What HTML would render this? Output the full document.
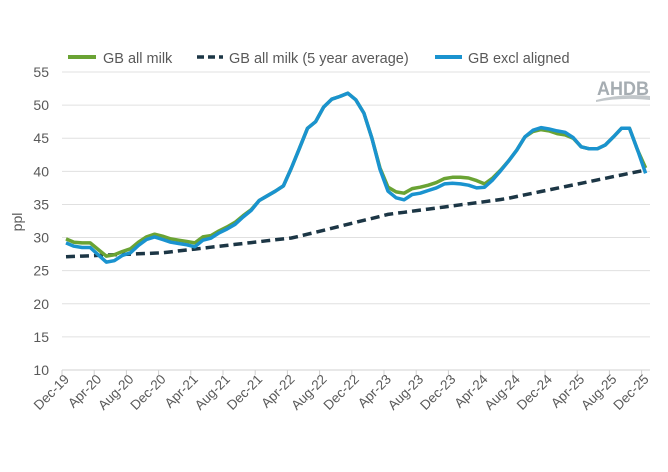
<!DOCTYPE html>
<html><head><meta charset="utf-8"><style>
body{margin:0;background:#fff;}
svg text{font-family:"Liberation Sans",Arial,sans-serif;fill:#595959;}
</style></head><body>
<svg id="c" width="668" height="467" viewBox="0 0 668 467" xmlns="http://www.w3.org/2000/svg">
<rect width="668" height="467" fill="#fff"/>
<g id="grid"></g>
<g id="lab"></g>
<text x="22" y="222" font-size="14" transform="rotate(-90 22 222)" text-anchor="middle">ppl</text>
<line x1="68" y1="57" x2="96" y2="57" stroke="#6aa334" stroke-width="4"/>
<text x="103" y="63" font-size="14.5">GB all milk</text>
<line x1="197" y1="57" x2="223" y2="57" stroke="#1c3645" stroke-width="3.5" stroke-dasharray="7,4"/>
<text x="229" y="63" font-size="14.5">GB all milk (5 year average)</text>
<line x1="435" y1="57" x2="462" y2="57" stroke="#1a93cf" stroke-width="4"/>
<text x="468" y="63" font-size="14.5">GB excl aligned</text>
<text x="597" y="95" font-size="19" font-weight="bold" textLength="52" lengthAdjust="spacingAndGlyphs" style="fill:#a6adb2">AHDB</text>
<path d="M596 100 Q622 93 650 96 L650 100 Q622 97 596 102Z" fill="#c2c7ca"/>
<polyline id="avg" fill="none" stroke="#1c3645" stroke-width="3.5" stroke-dasharray="9,5"/>
<polyline id="gr" fill="none" stroke="#6aa334" stroke-width="3.5" stroke-linejoin="round"/>
<polyline id="bl" fill="none" stroke="#1a93cf" stroke-width="3.5" stroke-linejoin="round"/>
</svg>
<script>
var ns="http://www.w3.org/2000/svg";
function Y(v){return 370-(v-10)*6.622;}
function X(i){return 66+i*8.05;}
var g=document.getElementById('grid'),l=document.getElementById('lab');
function el(t,a,p,txt){var e=document.createElementNS(ns,t);for(var k in a)e.setAttribute(k,a[k]);if(txt)e.textContent=txt;p.appendChild(e);}
for(var v=10;v<=55;v+=5){el('line',{x1:62,x2:650,y1:Y(v),y2:Y(v),stroke:v==10?'#d0d0d0':'#e0e0e0','stroke-width':1},g);
el('text',{x:49,y:Y(v)+5,'font-size':14,'text-anchor':'end'},l,String(v));}
var mons=['Dec','Apr','Aug'];
for(var j=0;j<=18;j++){var tx=62+j*4*8.05;el('line',{x1:tx,x2:tx,y1:370,y2:375,stroke:'#d0d0d0'},g);
var lab=mons[j%3]+'-'+(19+Math.floor((j+2)/3));
if(j%3==0)lab='Dec-'+(19+j/3);
var px=X(j*4)+4,py=380;
el('text',{x:px,y:py,'font-size':13.5,'text-anchor':'end',transform:'rotate(-45 '+px+' '+py+')'},l,lab);}
var G=[29.8,29.3,29.2,29.2,28.2,27.2,27.4,27.9,28.3,29.3,30.1,30.5,30.2,29.8,29.6,29.4,29.2,30.1,30.3,31.0,31.6,32.3,33.3,34.2,35.6,36.3,37.0,37.8,40.5,43.5,46.5,47.5,49.7,50.9,51.3,51.8,50.8,48.8,45.0,40.5,37.6,36.9,36.7,37.4,37.6,37.9,38.3,38.9,39.1,39.1,39.0,38.6,38.1,39.0,40.2,41.6,43.2,45.2,46.0,46.3,46.1,45.7,45.5,45.0,43.7,43.4,43.4,44.0,45.2,46.5,46.5,43.2,40.5];
var d=[-0.6,-0.6,-0.7,-0.7,-0.8,-0.9,-0.9,-0.6,-0.6,-0.5,-0.4,-0.4,-0.5,-0.5,-0.5,-0.5,-0.6,-0.5,-0.4,-0.3,-0.3,-0.3,-0.2,-0.1,0,0,0,0,0,0,0,0,0,0,0,0,0,0,0,-0.2,-0.6,-0.9,-1.0,-0.9,-0.9,-0.8,-0.8,-0.8,-0.9,-1.0,-1.1,-1.1,-0.5,-0.3,-0.1,0,0,0,0.2,0.3,0.3,0.4,0.4,0.1,0,0,0,0,0,0,0,0,-0.8];
var A=[];for(var i=0;i<=72;i++){var a;
if(i<=12)a=27.1+i*0.05;else if(i<=28)a=27.7+(i-12)*0.14;else if(i<=40)a=29.9+(i-28)*0.3;else if(i<=54)a=33.5+(i-40)*0.16;else a=35.7+(i-54)*0.25;A.push(a);}
function pts(arr){return arr.map(function(v,i){return X(i).toFixed(1)+','+Y(v).toFixed(1);}).join(' ');}
document.getElementById('gr').setAttribute('points',pts(G));
document.getElementById('bl').setAttribute('points',pts(G.map(function(v,i){return v+d[i];})));
document.getElementById('avg').setAttribute('points',pts(A));
</script>
</body></html>
